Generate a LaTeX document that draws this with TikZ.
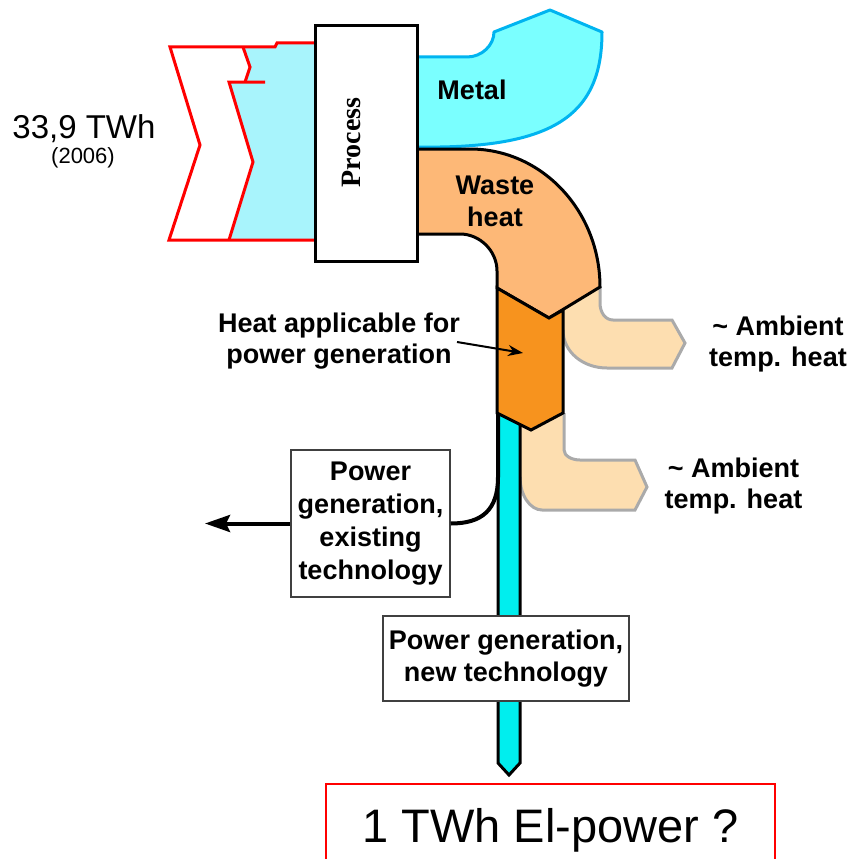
\documentclass[tikz,border=0pt]{standalone}
\usepackage{fontspec}
\setmainfont{Liberation Sans}
\newfontfamily\serifbf{Liberation Serif}
\usetikzlibrary{arrows.meta}
\definecolor{incyan}{HTML}{A8F4FC}
\definecolor{metalfill}{HTML}{7AFFFF}
\definecolor{metalline}{HTML}{00B4F0}
\definecolor{wastefill}{HTML}{FDB877}
\definecolor{orangefill}{HTML}{F7931E}
\definecolor{peach}{HTML}{FDDEB0}
\definecolor{peachline}{HTML}{AAAAAA}
\definecolor{pipecyan}{HTML}{00EEEE}
\definecolor{boxline}{HTML}{404040}
\begin{document}
\begin{tikzpicture}[x=1pt,y=-1pt,
  lbl/.style={font=\bfseries\fontsize{27}{30.5}\selectfont, align=center, inner sep=0pt},
  tbox/.style={draw=boxline, line width=1.5pt, fill=white, align=center, inner sep=0pt,
    font=\bfseries\fontsize{27}{32}\selectfont},
  redline/.style={draw=red, line width=3pt, line join=miter},
  blk/.style={draw=black, line width=3pt, line join=miter},
  greyline/.style={draw=peachline, line width=3pt},
]
\useasboundingbox (0,0) rectangle (851,859);
\clip (0,0) rectangle (851,859);

% input flow
\fill[incyan] (243,47) -- (250,67) -- (245,82) -- (229,82) -- (253,162) -- (229,240)
  -- (315,240) -- (315,43) -- (277,43) -- (275,47) -- cycle;
\draw[redline] (315,43) -- (277,43) -- (275,47) -- (170,47) -- (200,145) -- (169,240) -- (315,240);
\draw[redline] (243,47) -- (250,67) -- (245,82);
\draw[redline] (265,82) -- (229,82) -- (253,162) -- (229,240);

% metal
\path[fill=metalfill, draw=metalline, line width=3pt, line join=round]
  (417,57) -- (467,57) .. controls (482,57) and (494,45) .. (494,32) -- (550,10) -- (602,32)
  .. controls (602,110) and (560,145) .. (440,147) -- (417,147) -- cycle;

% ambient heat arm 1
\fill[peach] (563,310) -- (600,287) -- (600,303) .. controls (600,312) and (605,320) .. (613,320)
  -- (672,320) -- (685,343) -- (672,368) -- (607,368) .. controls (583,368) and (563,352) .. (563,330) -- cycle;
\draw[greyline] (600,287) -- (600,303) .. controls (600,312) and (605,320) .. (613,320)
  -- (672,320) -- (685,343) -- (672,368) -- (607,368) .. controls (583,368) and (563,352) .. (563,330);

% ambient heat arm 2
\fill[peach] (531,430) -- (563,413) -- (564,450) .. controls (564,456) and (572,460) .. (580,460)
  -- (635,460) -- (647,487) -- (635,510) -- (542,510) .. controls (530,510) and (520,495) .. (520,477)
  -- (520,420) -- cycle;
\draw[greyline] (564,413) -- (564,450) .. controls (564,456) and (572,460) .. (580,460)
  -- (635,460) -- (647,487) -- (635,510) -- (542,510) .. controls (530,510) and (520,495) .. (520,477);

% pipe
\path[fill=pipecyan, blk] (498,400) -- (498,763) -- (509,775) -- (520,763) -- (520,400);

% waste heat
\path[fill=wastefill, blk] (417,149) -- (470,149) .. controls (542,149) and (600,211) .. (600,287)
  -- (549,318) -- (497,288) -- (497,271) .. controls (497,251) and (480,234) .. (460,234)
  -- (417,234) -- cycle;

% heat applicable for power generation
\path[fill=orangefill, blk] (497,288) -- (549,318) -- (563,310) -- (563,413) -- (531,430)
  -- (497,413) -- cycle;

% process
\node[draw=black, line width=3pt, fill=white, minimum width=102pt, minimum height=235pt,
  inner sep=0pt] (proc) at (366,143.5) {};
\node[rotate=90, inner sep=0pt, font=\serifbf\bfseries\fontsize{28}{30}\selectfont]
  (proctext) at (351,142.5) {Process};

% existing technology branch
\node[tbox, minimum width=159pt, minimum height=147pt, font=\bfseries\fontsize{27}{33}\selectfont]
  (exist) at (370.5,523.5) {Power\\generation,\\existing\\technology};
\coordinate (branch) at (498,413);
\coordinate (exitpt) at (205,523.5);
\draw[line width=4pt] (branch) -- (498,477) .. controls (498,510) and (482,523.5) .. (exist.east);
\draw[line width=4pt, -{Stealth[length=25pt, width=17pt, inset=4pt]}] (exist.west) -- (exitpt);

% new technology
\node[tbox, minimum width=246pt, minimum height=85pt] (newt) at (506,658.5)
  {Power generation,\\new technology};

% result
\node[draw=red, line width=1.5pt, fill=white, anchor=north, minimum width=449pt,
  inner xsep=0pt, inner ysep=24pt, text height=35pt, text depth=10pt,
  font=\fontsize{47}{50}\selectfont] (res) at (550.5,783) {1 TWh El-power ?};

% labels
\node[anchor=base, inner sep=0pt, font=\fontsize{33}{36}\selectfont] (twh) at (84,138) {33,9 TWh};
\node[anchor=base, inner sep=0pt, font=\fontsize{22}{24}\selectfont] (year) at (83,163) {(2006)};
\node[lbl] (metal) at (472,90) {Metal};
\node[lbl, font=\bfseries\fontsize{27}{32}\selectfont] (waste) at (495,201) {Waste\\heat};
\node[lbl] (heatlbl) at (339,341) {Heat applicable for\\power generation};
\node[lbl] (amb1) at (778,344) {\textasciitilde{} Ambient\\temp. heat};
\node[lbl] (amb2) at (733.5,486) {\textasciitilde{} Ambient\\temp. heat};

\coordinate (hstart) at (457,342);
\coordinate (htip) at (523,353);
\draw[line width=2pt, -{Stealth[length=15pt, width=11pt]}] (hstart) -- (htip);
\end{tikzpicture}
\end{document}
